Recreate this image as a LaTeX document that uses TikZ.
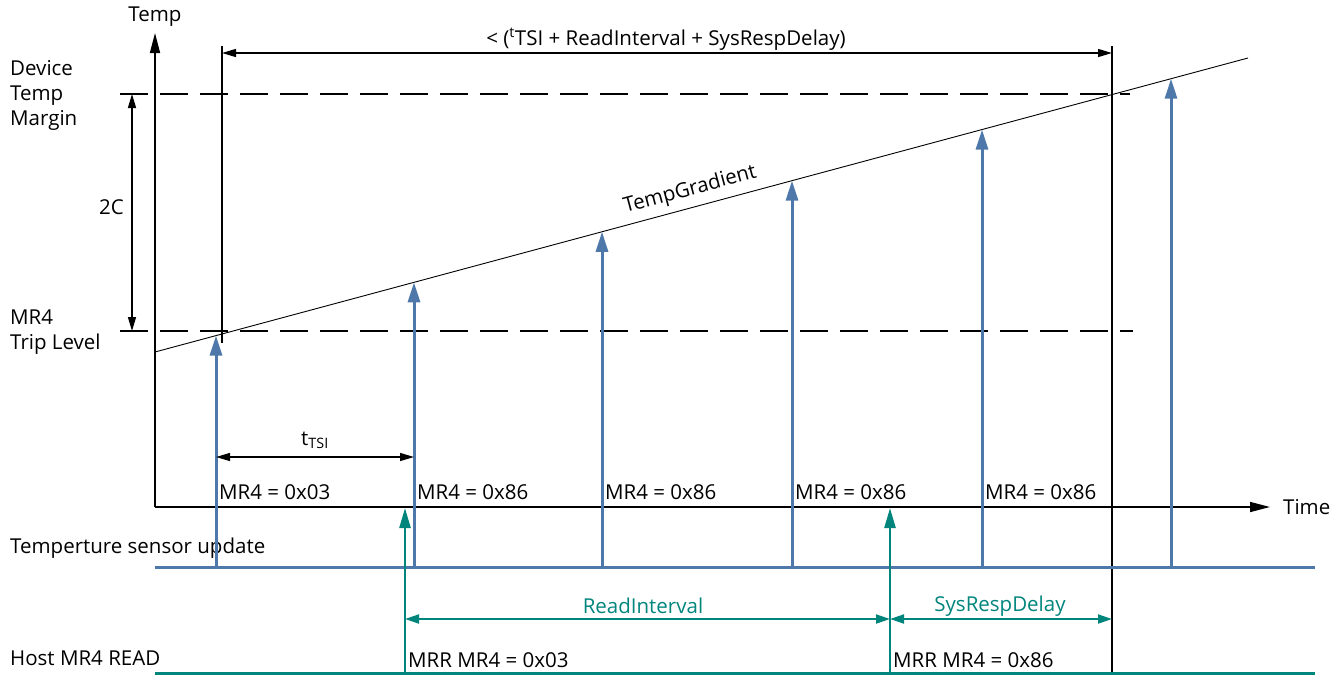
\documentclass[tikz,border=0pt]{standalone}
\usepackage{fontspec}
\setmainfont{Open Sans}
\usetikzlibrary{arrows.meta}
\definecolor{sensorblue}{RGB}{79,120,170}
\definecolor{hostteal}{RGB}{0,133,125}
\begin{document}
\begin{tikzpicture}[x=1pt,y=-1pt,
lab/.style={font=\fontsize{20.5}{25}\selectfont,inner sep=0pt},
axis/.style={line width=1.5pt,-{Triangle[length=20pt,width=10pt]}},
dim/.style={line width=1.3pt,{Triangle[length=14pt,width=8pt]}-{Triangle[length=14pt,width=8pt]}},
level/.style={line width=1.2pt,dash pattern=on 28pt off 12pt},
update/.style={sensorblue,line width=3pt,-{Triangle[length=20pt,width=12pt]}},
hostread/.style={hostteal,line width=2.5pt,-{Triangle[length=20pt,width=11pt]}},
hostdim/.style={hostteal,line width=2pt,{Triangle[length=14pt,width=9pt]}-{Triangle[length=14pt,width=9pt]}}
]
\useasboundingbox (0,0) rectangle (1339,675);

\coordinate (origin) at (155,507);
\coordinate (temptop) at (155,33);
\coordinate (timeend) at (1270,507);
\draw[axis] (origin) -- (temptop);
\draw[axis] (origin) -- (timeend);
\node[lab] (temp) at (155,17) {Temp};
\node[lab,anchor=west] (time) at (1283,507) {Time};

\coordinate (marginA) at (120,94);
\coordinate (marginB) at (1130,94);
\coordinate (tripA) at (120,331);
\coordinate (tripB) at (1133,331);
\draw[level] (marginA) -- (marginB);
\draw[level] (tripA) -- (tripB);
\node[lab,anchor=west,align=left] (margin) at (10,95) {Device\\Temp\\Margin};
\node[lab,anchor=west,align=left] (trip) at (10,332) {MR4\\Trip Level};

\coordinate (twoA) at (132,94);
\coordinate (twoB) at (132,331);
\draw[dim] (twoA) -- (twoB);
\node[lab,anchor=east] (twoc) at (124,207) {2C};

\coordinate (gradA) at (155,352);
\coordinate (gradB) at (1248,58);
\draw[line width=0.9pt] (gradA) -- (gradB);
\node[lab,rotate=15] (gradient) at (690,190) {TempGradient};

\coordinate (startT) at (222,46);
\coordinate (startB) at (222,343);
\coordinate (endT) at (1112,46);
\coordinate (endB) at (1112,675);
\draw[line width=1.3pt] (startT) -- (startB);
\draw[line width=1.3pt] (endT) -- (endB);
\coordinate (spanA) at (222,53);
\coordinate (spanB) at (1112,53);
\draw[dim] (spanA) -- (spanB);
\node[lab] (budget) at (666,39) {< (\textsuperscript{t}TSI + ReadInterval + SysRespDelay)};

\coordinate (sensorA) at (155,567);
\coordinate (sensorB) at (1315,567);
\draw[sensorblue,line width=3pt] (sensorA) -- (sensorB);
\node[lab,anchor=west] (sensor) at (10,548) {Temperture sensor update};

\foreach \xs [count=\i] in {216,414,602,792,982,1171}{
  \pgfmathsetmacro{\ys}{352-0.269*(\xs-155)}
  \coordinate (s\i) at (\xs,567);
  \coordinate (g\i) at (\xs,\ys);
  \draw[update] (s\i) -- (g\i);
}
\foreach \xs/\val [count=\i] in {216/03,414/86,602/86,792/86,982/86}
  \node[lab,anchor=west] (mr\i) at (\xs+3,492) {MR4 = 0x\val};

\draw[dim] (s1|-0,457) coordinate (tsiA) -- (s2|-0,457) coordinate (tsiB);
\node[lab] (tsi) at (315,440) {t\textsubscript{TSI}};

\coordinate (hostA) at (155,673);
\coordinate (hostB) at (1315,673);
\draw[hostteal,line width=3pt] (hostA) -- (hostB);
\node[lab,anchor=west] (host) at (10,658) {Host MR4 READ};

\coordinate (h1) at (405,673);
\coordinate (r1) at (405,508);
\coordinate (h2) at (890,673);
\coordinate (r2) at (890,508);
\draw[hostread] (h1) -- (r1);
\draw[hostread] (h2) -- (r2);
\node[lab,anchor=west] (mrr1) at (408,660) {MRR MR4 = 0x03};
\node[lab,anchor=west] (mrr2) at (893,660) {MRR MR4 = 0x86};

\coordinate (ivA) at (405,619);
\coordinate (ivB) at (890,619);
\coordinate (ivC) at (1112,619);
\draw[hostdim] (ivA) -- (ivB);
\draw[hostdim] (ivB) -- (ivC);
\node[lab,text=hostteal] (interval) at (643,606) {ReadInterval};
\node[lab,text=hostteal] (delay) at (1000,606) {SysRespDelay};

\end{tikzpicture}
\end{document}
